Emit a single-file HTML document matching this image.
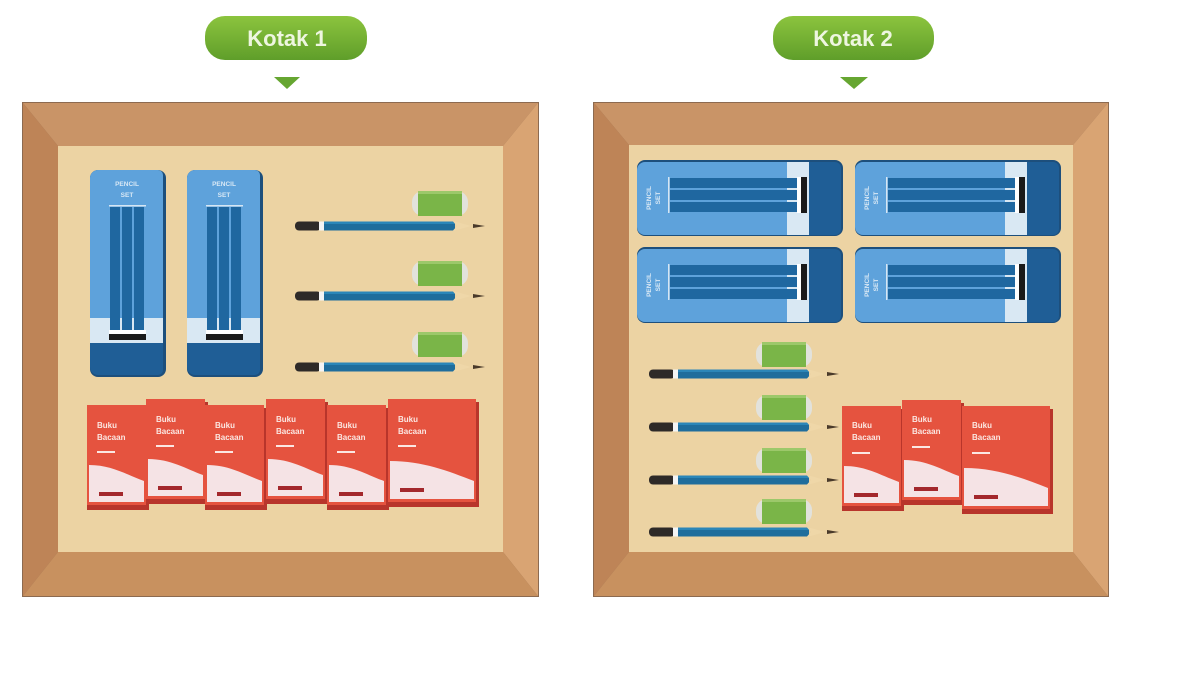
<!DOCTYPE html>
<html><head><meta charset="utf-8"><style>
html,body{margin:0;padding:0;background:#fff;width:1200px;height:675px;overflow:hidden}
svg{display:block}
text{font-family:"Liberation Sans",sans-serif;font-weight:bold}
</style></head><body>
<svg width="1200" height="675" viewBox="0 0 1200 675" xmlns="http://www.w3.org/2000/svg">
<defs>
<linearGradient id="pill" x1="0" y1="0" x2="0" y2="1"><stop offset="0" stop-color="#8cc43e"/><stop offset="1" stop-color="#5f9e2a"/></linearGradient>
<g id="pencil">
  <rect x="0" y="-4.5" width="26" height="9" rx="4" fill="#2e2a28"/>
  <rect x="24" y="-4.5" width="5" height="9" fill="#f4f4f4"/>
  <rect x="29" y="-4.5" width="131" height="9" fill="#1f6d9c"/>
  <rect x="29" y="-4.5" width="131" height="2.5" fill="#2b86b8"/>
  <polygon points="158,-4.5 160,-4.5 176,0 160,4.5 158,4.5 162,0" fill="#efd7a8"/>
  <polygon points="178,-2 190,0 178,2" fill="#4a3a2a"/>
</g>
<g id="sharp">
  <rect x="-6" y="0" width="56" height="25" rx="11" fill="#e2e2dc"/>
  <rect x="0" y="0" width="44" height="25" fill="#7ab548"/>
  <rect x="0" y="0" width="44" height="3" fill="#9cc86a"/>
</g>
<g id="vset">
  <rect x="0" y="0" width="76" height="207" rx="8" fill="#1d4f7c"/>
  <path d="M0,8 a8,8 0 0 1 8,-8 H68 a5,5 0 0 1 5,5 V173 H0Z" fill="#5ea2db"/>
  <rect x="0" y="148" width="73" height="25" fill="#d9e8f3"/>
  <path d="M0,173 H73 V200 a5,5 0 0 1 -5,5 H8 a8,8 0 0 1 -8,-8Z" fill="#1f5e96"/>
  <rect x="20" y="37" width="10" height="133" fill="#1f67a0"/>
  <rect x="32" y="37" width="10" height="133" fill="#1f67a0"/>
  <rect x="44" y="37" width="10" height="133" fill="#1f67a0"/>
  <rect x="19" y="35" width="37" height="1.5" fill="#d6e6f3"/>
  <rect x="19" y="160" width="37" height="4" fill="#fff"/>
  <rect x="19" y="164" width="37" height="6" fill="#1a1a1a"/>
</g>
<g id="hset">
  <rect x="0" y="0" width="206" height="76" rx="8" fill="#1d4f7c"/>
  <path d="M0,10 a8,8 0 0 1 8,-8 H150 V75 H8 a8,8 0 0 1 -8,-8Z" fill="#5ea2db"/>
  <rect x="150" y="2" width="22" height="73" fill="#d9e8f3"/>
  <path d="M172,2 H198 a6,6 0 0 1 6,6 V69 a6,6 0 0 1 -6,6 H172Z" fill="#1f5e96"/>
  <rect x="33" y="18" width="137" height="10" fill="#1f67a0"/>
  <rect x="33" y="30" width="137" height="10" fill="#1f67a0"/>
  <rect x="33" y="42" width="137" height="10" fill="#1f67a0"/>
  <rect x="31" y="17" width="1.5" height="36" fill="#d6e6f3"/>
  <rect x="160" y="17" width="4" height="36" fill="#fff"/>
  <rect x="164" y="17" width="6" height="36" fill="#1a1a1a"/>
</g>
<g id="book">
  <rect x="0" y="3" width="62" height="102" fill="#b8352b"/>
  <rect x="0" y="0" width="59" height="100" fill="#e5533f"/>
  <path d="M2,60 C25,60 40,70 57,76 V97 H2Z" fill="#f5e3e5"/>
  <rect x="12" y="87" width="24" height="4" fill="#a3282c"/>
  <rect x="10" y="46" width="18" height="2" fill="#fbe7e2"/>
</g>
<g id="bookw">
  <rect x="0" y="3" width="91" height="105" fill="#b8352b"/>
  <rect x="0" y="0" width="88" height="103" fill="#e5533f"/>
  <path d="M2,62 C35,62 60,72 86,82 V100 H2Z" fill="#f5e3e5"/>
  <rect x="12" y="89" width="24" height="4" fill="#a3282c"/>
  <rect x="10" y="46" width="18" height="2" fill="#fbe7e2"/>
</g>
</defs>

<!-- Labels -->
<rect x="205" y="16" width="162" height="44" rx="20" fill="url(#pill)"/>
<text x="287" y="46" font-size="22" fill="#eef6e0" text-anchor="middle">Kotak 1</text>
<polygon points="274,77 300,77 287,89" fill="#66a631"/>
<rect x="773" y="16" width="161" height="44" rx="20" fill="url(#pill)"/>
<text x="853" y="46" font-size="22" fill="#eef6e0" text-anchor="middle">Kotak 2</text>
<polygon points="840,77 868,77 854,89" fill="#66a631"/>

<!-- Box 1 -->
<rect x="22" y="102" width="517" height="495" fill="#8c6a50"/>
<polygon points="23,103 538,103 503,146 58,146" fill="#c99467"/>
<polygon points="23,103 58,146 58,552 23,596" fill="#be8457"/>
<polygon points="538,103 538,596 503,552 503,146" fill="#d9a473"/>
<polygon points="23,596 58,552 503,552 538,596" fill="#c8915f"/>
<rect x="58" y="146" width="445" height="406" fill="#ecd3a3"/>

<use href="#vset" x="90" y="170"/>
<use href="#vset" x="187" y="170"/>
<text x="127" y="186" font-size="6.5" fill="#d8e8f5" text-anchor="middle">PENCIL</text>
<text x="127" y="197" font-size="6.5" fill="#d8e8f5" text-anchor="middle">SET</text>
<text x="224" y="186" font-size="6.5" fill="#d8e8f5" text-anchor="middle">PENCIL</text>
<text x="224" y="197" font-size="6.5" fill="#d8e8f5" text-anchor="middle">SET</text>

<use href="#sharp" x="418" y="191"/>
<use href="#pencil" x="295" y="226"/>
<use href="#sharp" x="418" y="261"/>
<use href="#pencil" x="295" y="296"/>
<use href="#sharp" x="418" y="332"/>
<use href="#pencil" x="295" y="367"/>

<use href="#book" x="87" y="405"/>
<use href="#book" x="146" y="399"/>
<use href="#book" x="205" y="405"/>
<use href="#book" x="266" y="399"/>
<use href="#book" x="327" y="405"/>
<use href="#bookw" x="388" y="399"/>
<g font-size="8" fill="#fbe7e2">
<text x="97" y="428">Buku</text><text x="97" y="440">Bacaan</text>
<text x="156" y="422">Buku</text><text x="156" y="434">Bacaan</text>
<text x="215" y="428">Buku</text><text x="215" y="440">Bacaan</text>
<text x="276" y="422">Buku</text><text x="276" y="434">Bacaan</text>
<text x="337" y="428">Buku</text><text x="337" y="440">Bacaan</text>
<text x="398" y="422">Buku</text><text x="398" y="434">Bacaan</text>
</g>

<!-- Box 2 -->
<rect x="593" y="102" width="516" height="495" fill="#8c6a50"/>
<polygon points="594,103 1108,103 1073,145 629,145" fill="#c99467"/>
<polygon points="594,103 629,145 629,552 594,596" fill="#be8457"/>
<polygon points="1108,103 1108,596 1073,552 1073,145" fill="#d9a473"/>
<polygon points="594,596 629,552 1073,552 1108,596" fill="#c8915f"/>
<rect x="629" y="145" width="444" height="407" fill="#ecd3a3"/>

<use href="#hset" x="637" y="160"/>
<use href="#hset" x="855" y="160"/>
<use href="#hset" x="637" y="247"/>
<use href="#hset" x="855" y="247"/>
<g font-size="6.5" fill="#d8e8f5">
<text transform="translate(651,198) rotate(-90)" text-anchor="middle">PENCIL</text>
<text transform="translate(660,198) rotate(-90)" text-anchor="middle">SET</text>
<text transform="translate(869,198) rotate(-90)" text-anchor="middle">PENCIL</text>
<text transform="translate(878,198) rotate(-90)" text-anchor="middle">SET</text>
<text transform="translate(651,285) rotate(-90)" text-anchor="middle">PENCIL</text>
<text transform="translate(660,285) rotate(-90)" text-anchor="middle">SET</text>
<text transform="translate(869,285) rotate(-90)" text-anchor="middle">PENCIL</text>
<text transform="translate(878,285) rotate(-90)" text-anchor="middle">SET</text>
</g>

<use href="#sharp" x="762" y="342"/>
<use href="#pencil" x="649" y="374"/>
<use href="#sharp" x="762" y="395"/>
<use href="#pencil" x="649" y="427"/>
<use href="#sharp" x="762" y="448"/>
<use href="#pencil" x="649" y="480"/>
<use href="#sharp" x="762" y="499"/>
<use href="#pencil" x="649" y="532"/>

<use href="#book" x="842" y="406"/>
<use href="#book" x="902" y="400"/>
<use href="#bookw" x="962" y="406"/>
<g font-size="8" fill="#fbe7e2">
<text x="852" y="428">Buku</text><text x="852" y="440">Bacaan</text>
<text x="912" y="422">Buku</text><text x="912" y="434">Bacaan</text>
<text x="972" y="428">Buku</text><text x="972" y="440">Bacaan</text>
</g>
</svg>
</body></html>
